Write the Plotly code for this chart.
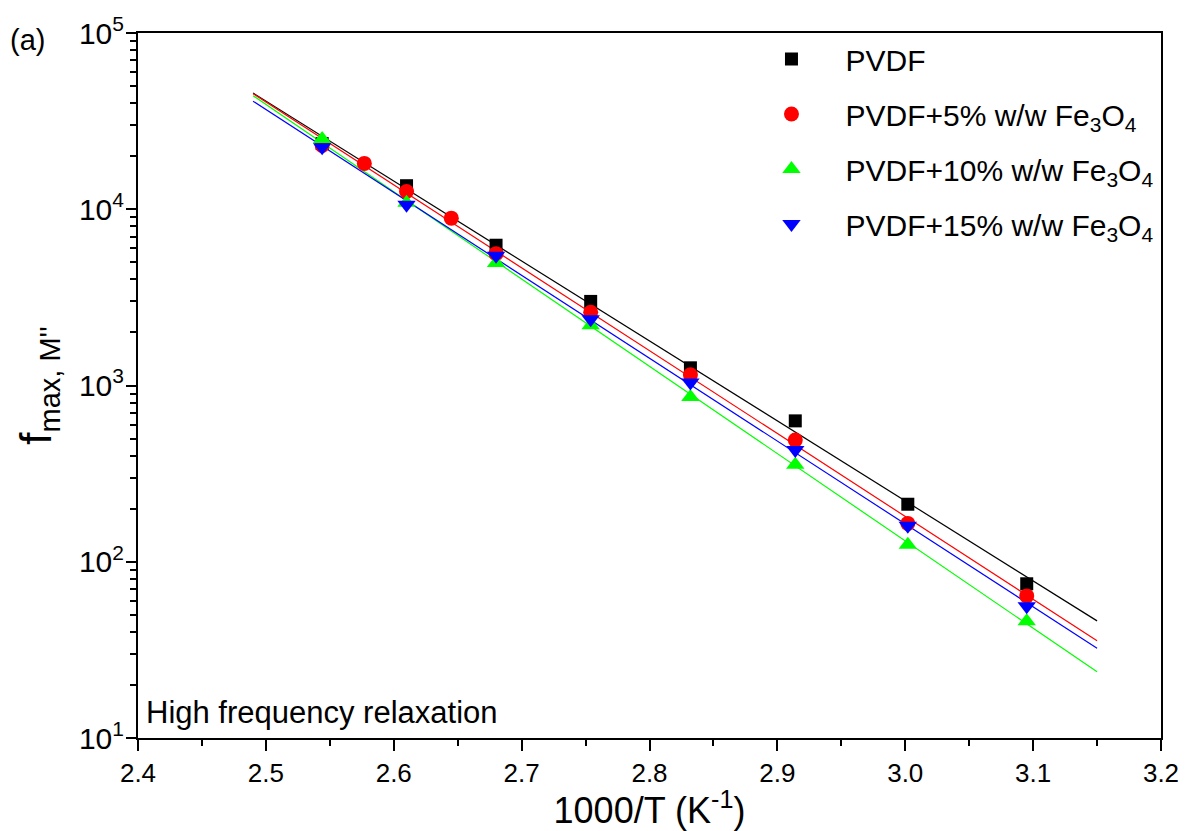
import numpy as np
import plotly.graph_objects as go

# inverse temperature (1000/T, K^-1)
x_pvdf = [2.544, 2.610, 2.680, 2.754, 2.832, 2.914, 3.002, 3.095]
y_pvdf = [23600, 13600, 6250, 3000, 1260, 630, 212, 75]

x_fe5 = [2.544, 2.577, 2.610, 2.645, 2.680, 2.754, 2.832, 2.914, 3.002, 3.095]
y_fe5 = [23000, 18200, 12600, 8900, 5600, 2600, 1150, 490, 165, 64]

x_fe10 = [2.544, 2.610, 2.680, 2.754, 2.832, 2.914, 3.002, 3.095]
y_fe10 = [25000, 10900, 4950, 2200, 860, 355, 125, 46]

x_fe15 = [2.544, 2.610, 2.680, 2.754, 2.832, 2.914, 3.002, 3.095]
y_fe15 = [22500, 10600, 5450, 2380, 1040, 430, 160, 56]

names = ["PVDF",
         "PVDF+5% w/w Fe<sub>3</sub>O<sub>4</sub>",
         "PVDF+10% w/w Fe<sub>3</sub>O<sub>4</sub>",
         "PVDF+15% w/w Fe<sub>3</sub>O<sub>4</sub>"]
colors = ["#000000", "#ff0000", "#00ff00", "#0000ff"]
symbols = ["square", "circle", "triangle-up", "triangle-down"]
sizes = [13, 15, 16, 16]
fit_range = [2.49, 3.15]

y_tickvals = [10, 100, 1000, 10000, 100000]
y_ticktext = ["10<sup>1</sup>", "10<sup>2</sup>", "10<sup>3</sup>", "10<sup>4</sup>", "10<sup>5</sup>"]
y_minorvals = [m * d for d in [10, 100, 1000, 10000] for m in range(2, 10)]

series = [(x_pvdf, y_pvdf), (x_fe5, y_fe5), (x_fe10, y_fe10), (x_fe15, y_fe15)]

fig = go.Figure()
# Arrhenius fit lines (linear fit of log10 f vs 1000/T)
for (xs, ys), c in zip(series, colors):
    p = np.polyfit(np.array(xs), np.log10(np.array(ys)), 1)
    xf = np.array(fit_range)
    fig.add_trace(go.Scatter(x=xf, y=10 ** np.polyval(p, xf), mode="lines",
                             line=dict(color=c, width=1.2), showlegend=False,
                             hoverinfo="skip"))
for i, ((xs, ys), n, c, s, sz) in enumerate(zip(series, names, colors, symbols, sizes)):
    fig.add_trace(go.Scatter(x=xs, y=ys, mode="markers", name=n, legendgroup=f"g{i}",
                             marker=dict(color=c, symbol=s, size=sz, line=dict(width=0))))
# invisible trace carrying the overlay axis that draws the longer major ticks
fig.add_trace(go.Scatter(x=x_pvdf, y=y_pvdf, yaxis="y2", mode="markers",
                         marker=dict(opacity=0), showlegend=False, hoverinfo="skip"))

font_family = "Liberation Sans, Arial, sans-serif"
fig.update_layout(
    width=1191, height=831,
    margin=dict(l=138, r=27, t=32, b=91),
    paper_bgcolor="white", plot_bgcolor="white",
    font=dict(family=font_family, color="black", size=26),
    showlegend=True,
    legend=dict(x=0.586, y=1.0, xanchor="left", yanchor="top",
                bgcolor="rgba(0,0,0,0)", font=dict(size=30),
                itemsizing="trace", itemwidth=98, tracegroupgap=13),
    xaxis=dict(range=[2.4, 3.2], dtick=0.1, tickformat=".1f",
               showline=True, linecolor="black", linewidth=2, mirror=True,
               ticks="outside", ticklen=11, tickwidth=2, tickcolor="black",
               minor=dict(ticks="outside", ticklen=6, tickwidth=2, dtick=0.05, tickcolor="black"),
               showgrid=False, zeroline=False,
               tickfont=dict(size=26),
               title=dict(text="1000/T (K<sup>-1</sup>)", font=dict(size=36), standoff=6)),
    yaxis=dict(type="log", range=[1, 5], tickmode="array",
               tickvals=y_tickvals + y_minorvals,
               ticktext=y_ticktext + [""] * len(y_minorvals),
               showline=True, linecolor="black", linewidth=2, mirror=True,
               ticks="outside", ticklen=6, tickwidth=2, tickcolor="black",
               showgrid=False, zeroline=False,
               tickfont=dict(size=30),
               title=dict(text="f<sub><span style='font-size:29px'>max, M''</span></sub>",
                          font=dict(size=44), standoff=14)),
    yaxis2=dict(type="log", range=[1, 5], overlaying="y", side="left", anchor="x",
                tickmode="array", tickvals=y_tickvals, showticklabels=False,
                ticks="outside", ticklen=11, tickwidth=2, tickcolor="black",
                showline=False, showgrid=False, zeroline=False),
)

fig.add_annotation(text="(a)", xref="paper", yref="paper", x=-0.127, y=0.99,
                   xanchor="left", yanchor="middle", showarrow=False, font=dict(size=29))
fig.add_annotation(text="High frequency relaxation", xref="paper", yref="paper",
                   x=0.006, y=0.008, xanchor="left", yanchor="bottom", showarrow=False,
                   font=dict(size=31))

fig.write_html("out.html")
